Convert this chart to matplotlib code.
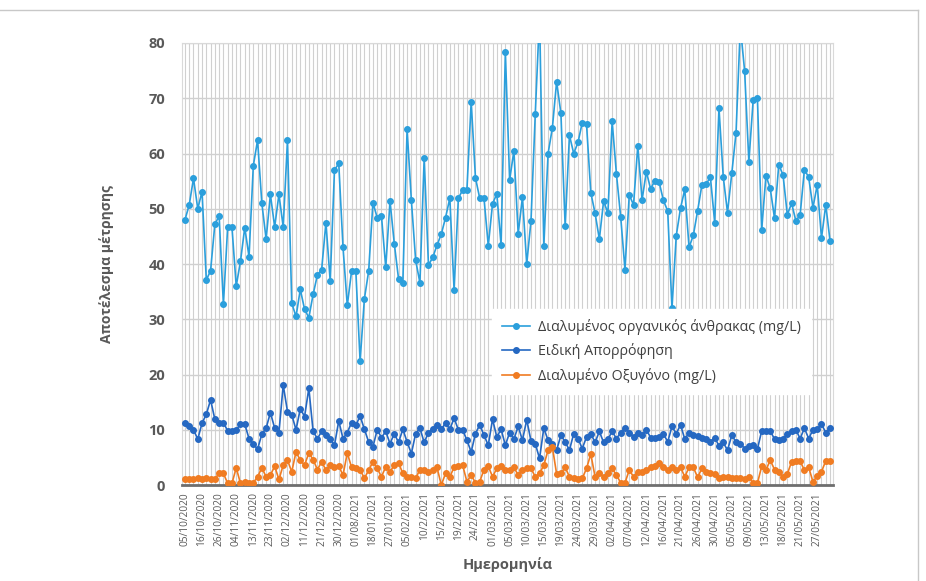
import matplotlib.pyplot as plt
from matplotlib.lines import Line2D

date_labels = ['05/10/2020', '16/10/2020', '26/10/2020', '04/11/2020', '13/11/2020', '23/11/2020',
               '02/12/2020', '11/12/2020', '21/12/2020', '30/12/2020', '01/08/2021', '18/01/2021',
               '27/01/2021', '05/02/2021', '10/2/2021', '15/2/2021', '19/2/2021', '24/2/2021',
               '01/03/2021', '05/03/2021', '10/03/2021', '15/03/2021', '19/03/2021', '24/03/2021',
               '29/03/2021', '02/04/2021', '07/04/2021', '12/04/2021', '16/04/2021', '21/04/2021',
               '26/04/2021', '30/04/2021', '05/05/2021', '09/05/2021', '13/05/2021', '18/05/2021',
               '21/05/2021', '27/05/2021']

doc = [48.0, 50.7, 55.5, 50.0, 53.1, 37.1, 38.8, 47.2, 48.7, 32.7,
       46.7, 46.7, 36.0, 40.5, 46.6, 41.3, 57.8, 62.4, 51.0, 44.5,
       52.6, 46.7, 52.6, 46.7, 62.4, 32.9, 30.5, 35.4, 31.8, 30.3,
       34.5, 38.0, 39.0, 47.5, 36.9, 57.0, 58.2, 43.0, 32.5, 38.7,
       38.7, 22.4, 33.7, 38.7, 51.1, 48.4, 48.7, 39.4, 51.4, 43.7,
       37.3, 36.6, 64.4, 51.5, 40.7, 36.6, 59.2, 39.8, 41.2, 43.4,
       45.4, 48.4, 51.9, 35.3, 51.9, 53.4, 53.4, 69.4, 55.6, 51.9,
       51.9, 43.3, 50.9, 52.7, 43.4, 78.4, 55.2, 60.5, 45.5, 52.1,
       40.0, 47.8, 67.1, 85.0, 43.3, 60.0, 64.6, 73.0, 67.3, 46.8,
       63.3, 60.0, 62.0, 65.6, 65.3, 52.9, 49.2, 44.5, 51.4, 49.2,
       65.8, 56.3, 48.5, 39.0, 52.5, 50.7, 61.4, 51.6, 56.7, 53.6,
       55.1, 54.8, 51.5, 49.6, 32.0, 45.1, 50.1, 53.5, 43.0, 45.2,
       49.6, 54.3, 54.5, 55.7, 47.5, 68.2, 55.8, 49.3, 56.4, 63.8,
       83.0, 75.0, 58.5, 69.6, 70.0, 46.2, 56.0, 53.7, 48.3, 58.0,
       56.1, 48.9, 51.0, 47.8, 48.9, 57.1, 55.7, 50.2, 54.3, 44.7,
       50.7, 44.2]

suva = [11.2, 10.6, 10.0, 8.3, 11.2, 12.8, 15.4, 11.9, 11.3, 11.3,
        9.8, 9.8, 10.0, 11.0, 11.0, 8.4, 7.4, 6.5, 9.2, 10.3,
        13.1, 10.3, 9.5, 18.1, 13.3, 12.7, 10.0, 13.8, 12.4, 17.5,
        9.7, 8.4, 9.7, 9.0, 8.3, 7.2, 11.6, 8.4, 9.5, 11.3,
        10.8, 12.5, 10.1, 7.8, 6.9, 10.0, 8.6, 9.7, 7.5, 9.3,
        7.7, 10.1, 7.8, 5.7, 9.3, 10.3, 7.7, 9.5, 10.1, 10.9,
        10.1, 11.2, 10.1, 12.1, 10.0, 10.0, 8.1, 6.0, 9.3, 10.9,
        9.0, 7.2, 11.9, 8.7, 10.1, 7.2, 9.5, 8.3, 10.6, 8.1,
        11.8, 8.0, 7.5, 4.8, 10.3, 8.1, 7.5, 6.3, 9.0, 7.8,
        6.3, 9.3, 8.4, 6.6, 8.7, 9.3, 7.7, 9.7, 7.7, 8.3,
        9.7, 8.4, 9.5, 10.4, 9.5, 8.7, 9.5, 9.0, 10.0, 8.6,
        8.6, 8.7, 9.3, 7.8, 10.6, 9.3, 10.9, 8.3, 9.5, 9.0,
        8.9, 8.6, 8.4, 7.8, 8.6, 7.1, 7.7, 6.3, 9.0, 7.8,
        7.5, 6.6, 7.1, 7.2, 6.5, 9.8, 9.8, 9.8, 8.3, 8.1,
        8.4, 9.3, 9.7, 10.0, 8.4, 10.3, 8.4, 10.0, 10.1, 11.0,
        9.5, 10.4]

do = [1.0, 1.0, 1.1, 1.3, 1.0, 1.2, 1.0, 1.0, 2.2, 2.1,
      0.3, 0.3, 3.1, 0.3, 0.6, 0.4, 0.4, 1.5, 3.1, 1.5,
      1.8, 3.4, 1.0, 3.6, 4.5, 2.4, 6.0, 4.5, 3.6, 5.8,
      4.6, 2.8, 4.2, 2.7, 3.6, 3.3, 3.4, 1.8, 5.8, 3.2,
      3.0, 2.8, 1.2, 2.7, 4.2, 3.0, 1.5, 3.3, 2.4, 3.6,
      4.0, 2.1, 1.5, 1.5, 1.2, 2.8, 2.7, 2.4, 2.7, 3.2,
      0.0, 2.1, 1.5, 3.2, 3.4, 3.6, 0.6, 1.8, 0.4, 0.6,
      2.8, 3.4, 1.5, 3.0, 3.4, 2.8, 2.7, 3.2, 1.8, 2.8,
      3.0, 3.0, 1.5, 2.1, 3.6, 6.3, 6.9, 2.0, 2.1, 3.2,
      1.5, 1.2, 1.0, 1.2, 3.0, 5.6, 1.5, 2.1, 1.5, 2.1,
      3.0, 1.8, 0.4, 0.4, 2.7, 1.5, 2.4, 2.4, 2.7, 3.2,
      3.4, 3.9, 3.3, 2.7, 3.3, 2.8, 3.2, 1.5, 3.2, 3.2,
      1.4, 3.0, 2.4, 2.2, 2.0, 1.2, 1.5, 1.4, 1.2, 1.2,
      1.2, 1.0, 1.5, 0.3, 0.3, 3.4, 2.7, 4.5, 2.8, 2.4,
      1.4, 2.0, 4.2, 4.3, 4.3, 2.7, 3.2, 0.6, 1.6, 2.4,
      4.4, 4.4]

names = ['Διαλυμένος οργανικός άνθρακας (mg/L)', 'Ειδική Απορρόφηση', 'Διαλυμένο Οξυγόνο (mg/L)']
colors = ['#2b9fdc', '#2568c2', '#f07c22']

plt.rcParams['font.family'] = ['Open Sans', 'DejaVu Sans']
grey = '#595959'

fig = plt.figure(figsize=(9.26, 5.81), dpi=100)
ax = fig.add_axes([0.1965, 0.1652, 0.7031, 0.7608])

x = list(range(len(doc)))
ax.plot(x, doc, color=colors[0], lw=1.2, marker='o', ms=4, label=names[0], zorder=3)
ax.plot(x, suva, color=colors[1], lw=1.2, marker='o', ms=4, label=names[1], zorder=3)
ax.plot(x, do, color=colors[2], lw=1.2, marker='o', ms=4, label=names[2], zorder=3)

ax.set_ylim(0, 80)
ax.set_xlim(-0.7, len(doc) - 0.3)
ax.set_yticks(range(0, 81, 10))
ax.set_xticks(x, minor=True)
ax.set_xticks(range(0, len(doc), 4))
ax.set_xticklabels(date_labels, rotation=90, fontsize=7.3, color=grey)
ax.tick_params(axis='x', which='both', length=0, pad=5)
ax.tick_params(axis='y', length=0, pad=12, labelsize=10.5, labelcolor=grey)
for t in ax.get_yticklabels():
    t.set_fontweight('bold')

ax.grid(axis='x', which='both', color='#d0d0d0', lw=0.8, zorder=0)
ax.grid(axis='y', which='major', color='#d0d0d0', lw=1.0, zorder=0)
ax.set_axisbelow(True)
for s in ['top', 'left', 'right']:
    ax.spines[s].set_color('#d9d9d9')
ax.spines['bottom'].set_color('#6e6e6e')
ax.spines['bottom'].set_linewidth(2)

ax.set_ylabel('Αποτέλεσμα μέτρησης', fontsize=10, fontweight='bold', color=grey, labelpad=25)
ax.set_xlabel('Ημερομηνία', fontsize=10.5, fontweight='bold', color=grey, labelpad=8)

leg = ax.legend(loc='upper left', bbox_to_anchor=(0.465, 0.415), frameon=True, fontsize=10.3,
                handlelength=2.0, handletextpad=0.5, labelspacing=0.6, borderpad=0.7, fancybox=False)
leg.get_frame().set_edgecolor('white')
leg.get_frame().set_facecolor('white')
leg.get_frame().set_alpha(1)
for t in leg.get_texts():
    t.set_color('#404040')

fig.add_artist(Line2D([0, 0.9915], [0.983, 0.983], color='#c8c8c8', lw=1))
fig.add_artist(Line2D([0.9915, 0.9915], [0.0, 0.983], color='#c8c8c8', lw=1))

plt.savefig('out.png', dpi=100)
